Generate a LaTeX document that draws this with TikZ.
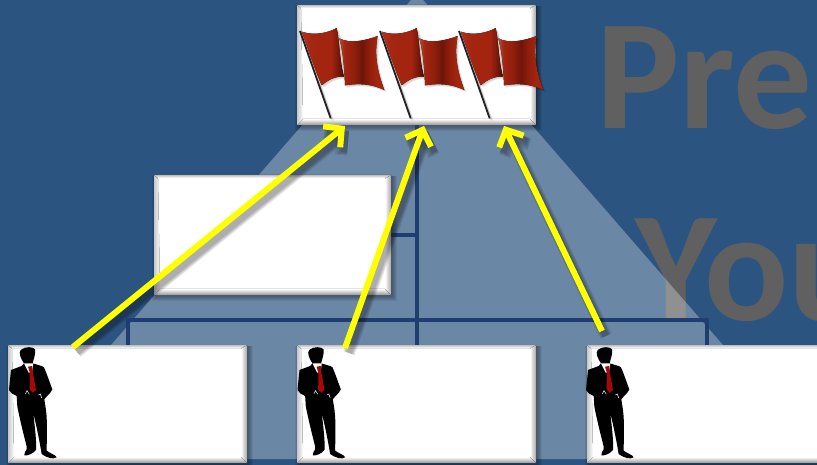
\documentclass[tikz,border=0pt]{standalone}
\usepackage{fontspec}
\setmainfont{Carlito}
\usetikzlibrary{arrows.meta,calc}
\definecolor{bgblue}{HTML}{2C5480}
\definecolor{orgblue}{HTML}{1F3D6E}
\definecolor{txtgray}{HTML}{606060}
\definecolor{arrowyellow}{HTML}{FFFF00}
\definecolor{tiered}{HTML}{A80808}
\definecolor{polegray}{HTML}{222222}
\definecolor{flagA}{HTML}{B5301E}
\definecolor{flagB}{HTML}{A3240F}
\definecolor{flagC}{HTML}{6E1508}
\definecolor{flagD}{HTML}{4A0E05}
\definecolor{flagE}{HTML}{B34A3A}
\definecolor{flagF}{HTML}{8E1E0C}
\pgfdeclarehorizontalshading{flagL}{100bp}{color(0bp)=(flagA);color(25bp)=(flagA);color(38bp)=(flagB);color(60bp)=(flagB);color(70bp)=(flagC);color(73bp)=(flagD);color(75bp)=(flagD);color(100bp)=(flagD)}
\pgfdeclarehorizontalshading{flagR}{100bp}{color(0bp)=(flagE);color(25bp)=(flagE);color(31bp)=(flagB);color(42bp)=(flagF);color(50bp)=(flagC);color(58bp)=(flagF);color(66bp)=(flagB);color(75bp)=(flagB);color(100bp)=(flagB)}
\tikzset{
  panelbody/.style={draw=none,fill=white,inner sep=0pt,outer sep=0pt,rectangle},
  orgline/.style={draw=orgblue,line width=4pt,line join=round},
  yarrow/.style={draw=arrowyellow,line width=6pt,-{Straight Barb[length=13pt,width=27pt,line width=6pt]}},
  yshadow/.style={draw=black,opacity=.09,line width=#1,-{Straight Barb[length=13pt,width=27pt,line width=#1]}},
  bigtext/.style={inner sep=0pt,outer sep=0pt,anchor=base west,text=txtgray,font=\bfseries\fontsize{157}{157}\selectfont},
  pics/flagart/.style={code={
    \begin{scope}[x=0.3333pt,y=-0.3333pt]
    \foreach \w/\o in {3/.07,5/.07,7/.07}{
      \fill[black,opacity=\o,shift={(\w,\w)}] (20,35) .. controls (60,48) and (100,38) .. (125,24) -- (133,55) .. controls (165,72) and (210,62) .. (248,48) .. controls (238,100) and (245,150) .. (268,210) .. controls (225,190) and (190,190) .. (150,196) -- (147,170) .. controls (120,168) and (100,180) .. (80,196) .. controls (60,150) and (40,90) .. (20,35) -- cycle;
      \draw[black,opacity=\o,line width=2pt,shift={(\w,\w)}] (15,33) -- (107,295);
    }
    \fill[shading=flagL] (20,35) .. controls (60,48) and (100,38) .. (125,24) .. controls (134,60) and (133,120) .. (147,170) .. controls (120,168) and (100,180) .. (80,196) .. controls (60,150) and (40,90) .. (20,35) -- cycle;
    \fill[shading=flagR] (133,55) .. controls (165,72) and (210,62) .. (248,48) .. controls (238,100) and (245,150) .. (268,210) .. controls (225,190) and (190,190) .. (150,196) .. controls (148,150) and (145,100) .. (133,55) -- cycle;
    \draw[polegray,line width=1.8pt] (15,33) -- (107,295);
    \end{scope}
  }},
  pics/manart/.style={code={
    \begin{scope}[x=0.3333pt,y=-0.3333pt]
    \fill[black] (72,100) .. controls (62,85) and (55,70) .. (62,60) .. controls (75,48) and (100,50) .. (105,58) .. controls (108,72) and (100,88) .. (98,100)
      -- (125,108) -- (132,112) .. controls (142,135) and (150,160) .. (157,178) .. controls (152,190) and (140,198) .. (133,208)
      -- (138,240) .. controls (143,280) and (140,330) .. (140,362) .. controls (150,370) and (168,375) .. (170,382) .. controls (160,388) and (145,386) .. (125,372)
      .. controls (118,330) and (110,290) .. (100,250) .. controls (104,290) and (110,330) .. (108,360) .. controls (100,370) and (85,378) .. (73,376) -- (75,366) .. controls (80,360) and (82,355) .. (80,350)
      .. controls (70,310) and (60,270) .. (52,230) -- (50,198) .. controls (40,192) and (30,190) .. (27,180) -- (33,120) -- (65,108) -- cycle;
    \fill[white] (72,100) -- (100,100) -- (96,128) -- (86,128) -- cycle;
    \fill[tiered] (84,110) -- (97,108) -- (98,125) -- (108,180) -- (98,188) -- (89,178) -- (90,130) -- cycle;
    \draw[white,line width=.5pt] (76,192) -- (81,182) -- (88,193);
    \draw[white,line width=.5pt] (115,195) -- (121,192) -- (125,204);
    \end{scope}
  }}
}
% \panelbox{name}{x0}{y0}{x1}{y1}
\newcommand{\panelbox}[5]{%
  \foreach \s in {1,2,3,4,5}{
    \fill[black,opacity=.07] ({#2+3-\s},{#3+1}) rectangle ({#4+\s+1},{#5+\s+1});
  }
  \node[panelbody,anchor=north west,minimum width={(#4-#2)*1pt},minimum height={(#5-#3)*1pt}] (#1) at (#2,#3) {};
  \fill[top color=white,bottom color=black!42] ({#2+6},{#5-6}) -- ({#4-6},{#5-6}) -- (#4,#5) -- (#2,#5) -- cycle;
  \fill[left color=white,right color=black!35] ({#4-6},{#3+4}) -- (#4,#3) -- (#4,#5) -- ({#4-6},{#5-6}) -- cycle;
  \fill[left color=black!22,right color=white] (#2,#3) -- ({#2+4},{#3+4}) -- ({#2+6},{#5-6}) -- (#2,#5) -- cycle;
  \fill[top color=black!25,bottom color=white] (#2,#3) -- (#4,#3) -- ({#4-6},{#3+3}) -- ({#2+4},{#3+3}) -- cycle;
}
\begin{document}
\begin{tikzpicture}[x=1pt,y=-1pt]
  \clip (0,0) rectangle (817,465);
  \fill[bgblue] (0,0) rectangle (817,465);
  \node[bigtext] (pretext) at (596,129) {Pre};
  \node[bigtext] (youtext) at (635,320) {You};
  \fill[white,opacity=.3] (417,-7) -- (822,459) -- (12,459) -- cycle;

  \panelbox{chief}{297}{5}{536}{125}
  \panelbox{aide}{154}{175}{391}{295}
  \panelbox{staffa}{8}{345}{247}{463}
  \panelbox{staffb}{297}{345}{536}{463}
  \panelbox{staffc}{587}{345}{826}{463}

  \coordinate (bus) at (417,320);
  \draw[orgline] (chief.south) -- (staffb.north);
  \draw[orgline] (aide.east) -- (chief.south |- aide.east);
  \draw[orgline] (staffa.north) |- (bus) -| (staffc.north);

  \pic at (295,20) {flagart};
  \pic at (375,20) {flagart};
  \pic at (454,20) {flagart};

  \pic at (0,330) {manart};
  \pic at (288.5,330) {manart};
  \pic at (577,330) {manart};

  \coordinate (a1s) at (73,347);
  \coordinate (a1e) at (345,126);
  \coordinate (a2s) at (345,348);
  \coordinate (a2e) at (424,126);
  \coordinate (a3s) at (602,331);
  \coordinate (a3e) at (504,126);
  \foreach \p/\q in {a1s/a1e,a2s/a2e,a3s/a3e}{
    \foreach \w in {6pt,8pt,10pt,12pt}{
      \draw[yshadow=\w] ($(\p)+(4,5)$) -- ($(\q)+(4,5)$);
    }
  }
  \draw[yarrow] (a1s) -- (a1e);
  \draw[yarrow] (a2s) -- (a2e);
  \draw[yarrow] (a3s) -- (a3e);
\end{tikzpicture}
\end{document}
